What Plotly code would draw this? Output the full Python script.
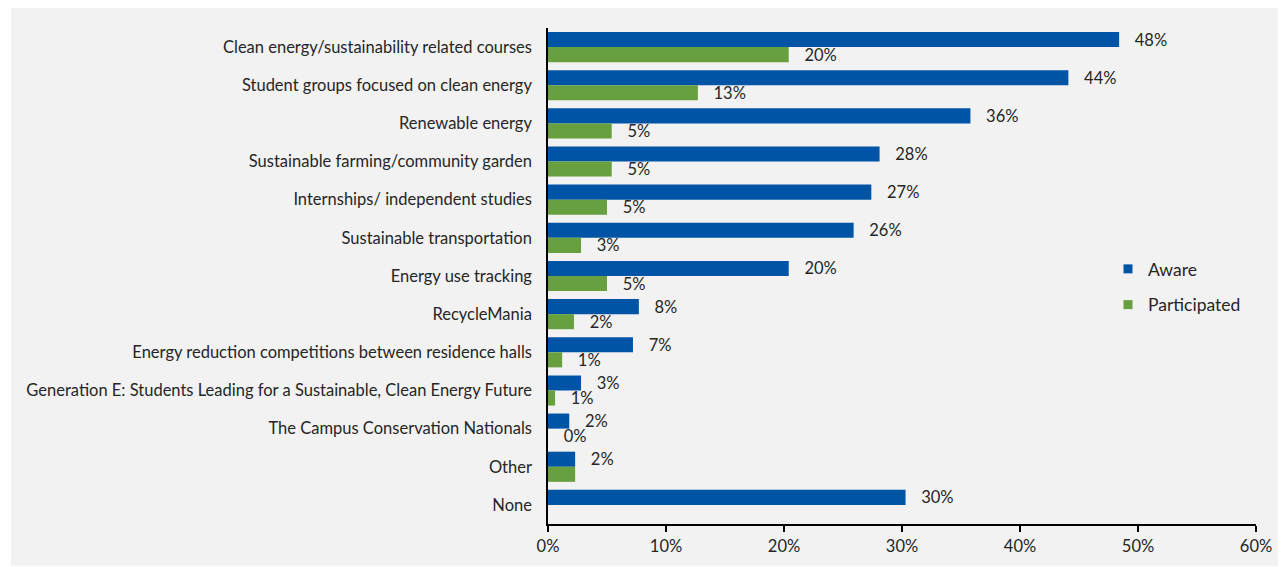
import plotly.graph_objects as go

categories = [
    "Clean energy/sustainability related courses",
    "Student groups focused on clean energy",
    "Renewable energy",
    "Sustainable farming/community garden",
    "Internships/ independent studies",
    "Sustainable transportation",
    "Energy use tracking",
    "RecycleMania",
    "Energy reduction competitions between residence halls",
    "Generation E: Students Leading for a Sustainable, Clean Energy Future",
    "The Campus Conservation Nationals",
    "Other",
    "None",
]
aware = [0.484, 0.441, 0.358, 0.281, 0.274, 0.259, 0.204, 0.077, 0.072, 0.028, 0.018, 0.023, 0.303]
participated = [0.204, 0.127, 0.054, 0.054, 0.050, 0.028, 0.050, 0.022, 0.012, 0.006, 0.0, 0.023, None]
# which participated values carry a data label in the reference
participated_labelled = [True, True, True, True, True, True, True, True, True, True, True, False, False]
x_ticks = [0, 0.1, 0.2, 0.3, 0.4, 0.5, 0.6]
series_names = ["Aware", "Participated"]

FONT = "Lato"
TXT = "#262626"
BLUE = "#0054a6"
GREEN = "#689f3f"
GRAY = "#f2f2f2"
FS = 16.5
LBL = "   %{x:.0%}"

fig = go.Figure()
fig.add_trace(go.Bar(
    y=categories, x=aware, name=series_names[0], orientation="h", showlegend=False,
    marker=dict(color=BLUE, line=dict(width=0)),
    texttemplate=LBL, textposition="outside", constraintext="none",
    textfont=dict(family=FONT, size=FS, color=TXT), cliponaxis=False,
))
fig.add_trace(go.Bar(
    y=categories, x=participated, name=series_names[1], orientation="h", showlegend=False,
    marker=dict(color=GREEN, line=dict(width=0)),
    texttemplate=[LBL if f else "" for f in participated_labelled],
    textposition="outside", constraintext="none",
    textfont=dict(family=FONT, size=FS, color=TXT), cliponaxis=False,
))
for i, (name, col) in enumerate([(series_names[0], BLUE), (series_names[1], GREEN)]):
    fig.add_trace(go.Scatter(
        x=[None], y=[None], mode="markers", name=name, legendgroup=f"g{i}",
        marker=dict(symbol="square", size=9, color=col),
    ))

# page body has an 8px margin; shift figure so the picture lines up
OFF = 8
W, H = 1286 - OFF, 567 - OFF
L, T = 548 - OFF, 28 - OFF
R = 1286 - 1256
B = H - (524 - OFF)
pw, ph = W - L - R, H - T - B

fig.add_shape(
    type="rect", xref="paper", yref="paper", layer="below",
    x0=(11 - OFF - L) / pw, x1=(W + 5 - L) / pw,
    y0=(H - B - (566 - OFF)) / ph, y1=(H - B + 5) / ph,
    fillcolor=GRAY, line=dict(width=0),
)

fig.update_layout(
    width=W, height=H,
    margin=dict(l=L, r=R, t=T, b=B, pad=0),
    paper_bgcolor="white", plot_bgcolor=GRAY,
    barmode="group", bargap=0.21, bargroupgap=0,
    font=dict(family=FONT, size=FS, color=TXT),
    showlegend=True,
    legend=dict(
        x=(1108 - OFF - L) / pw, y=(H - B - (251 - OFF)) / ph, xanchor="left", yanchor="top",
        bgcolor="rgba(0,0,0,0)", font=dict(family=FONT, size=17.5, color=TXT),
        tracegroupgap=10, itemwidth=30,
    ),
    xaxis=dict(
        range=[0, 0.6], tickvals=x_ticks, tickformat=".0%",
        showgrid=False, zeroline=False, showline=True, linecolor="black", linewidth=1.5,
        ticks="outside", ticklen=6, tickcolor="black", tickwidth=1.5,
        tickfont=dict(family=FONT, size=FS, color=TXT),
    ),
    yaxis=dict(
        autorange="reversed", showgrid=False, zeroline=False,
        showline=True, linecolor="black", linewidth=1.5, ticks="",
        ticklabelstandoff=11, tickfont=dict(family=FONT, size=FS, color=TXT),
    ),
)

fig.write_html("out.html")
